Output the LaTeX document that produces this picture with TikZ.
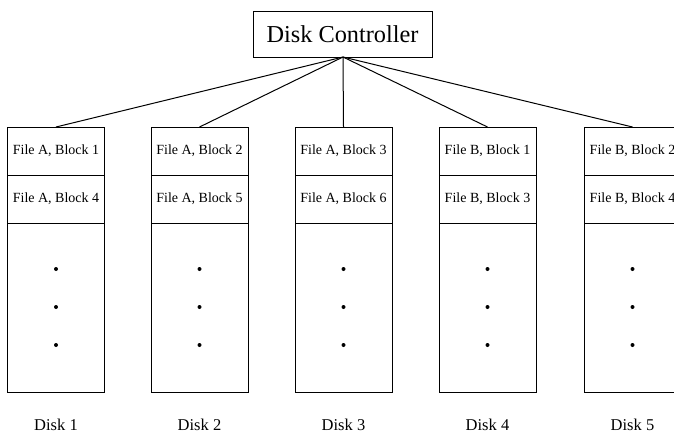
\documentclass[tikz,border=0pt]{standalone}
\usepackage{fontspec}
\setmainfont{Liberation Serif}
\begin{document}
\begin{tikzpicture}[x=1pt,y=-1pt,
  box/.style={draw,line width=1pt},
  dot/.style={fill,circle,inner sep=0pt,minimum size=4pt},
  cell/.style={font=\fontsize{14}{16}\selectfont},
  lbl/.style={font=\fontsize{16.5}{19}\selectfont},
  link/.style={line width=1pt}]
\clip (0,0) rectangle (674,439);
\fill[white] (0,0) rectangle (674,439);
\node[box,minimum width=179pt,minimum height=46pt,font=\fontsize{24.3}{28}\selectfont] (ctrl) at (342.5,34) {Disk Controller};
\coordinate (hub) at (343,57);
\foreach \i/\cx/\ta/\tb in {1/56/{File A, Block 1}/{File A, Block 4},
                           2/199.5/{File A, Block 2}/{File A, Block 5},
                           3/343.5/{File A, Block 3}/{File A, Block 6},
                           4/487.5/{File B, Block 1}/{File B, Block 3},
                           5/632.5/{File B, Block 2}/{File B, Block 4}} {
  \draw[box] (\cx-48.5,127) rectangle (\cx+48.5,392);
  \draw[link] (\cx-48.5,175) -- (\cx+48.5,175);
  \draw[link] (\cx-48.5,223) -- (\cx+48.5,223);
  \coordinate (top\i) at (\cx,127);
  \node[cell] (a\i) at (\cx,151) {\ta};
  \node[cell] (b\i) at (\cx,199) {\tb};
  \node[dot] (d1\i) at (\cx,269) {};
  \node[dot] (d2\i) at (\cx,307) {};
  \node[dot] (d3\i) at (\cx,345) {};
  \node[lbl] (disk\i) at (\cx,425) {Disk \i};
  \draw[link] (hub) -- (top\i);
}
\end{tikzpicture}
\end{document}
